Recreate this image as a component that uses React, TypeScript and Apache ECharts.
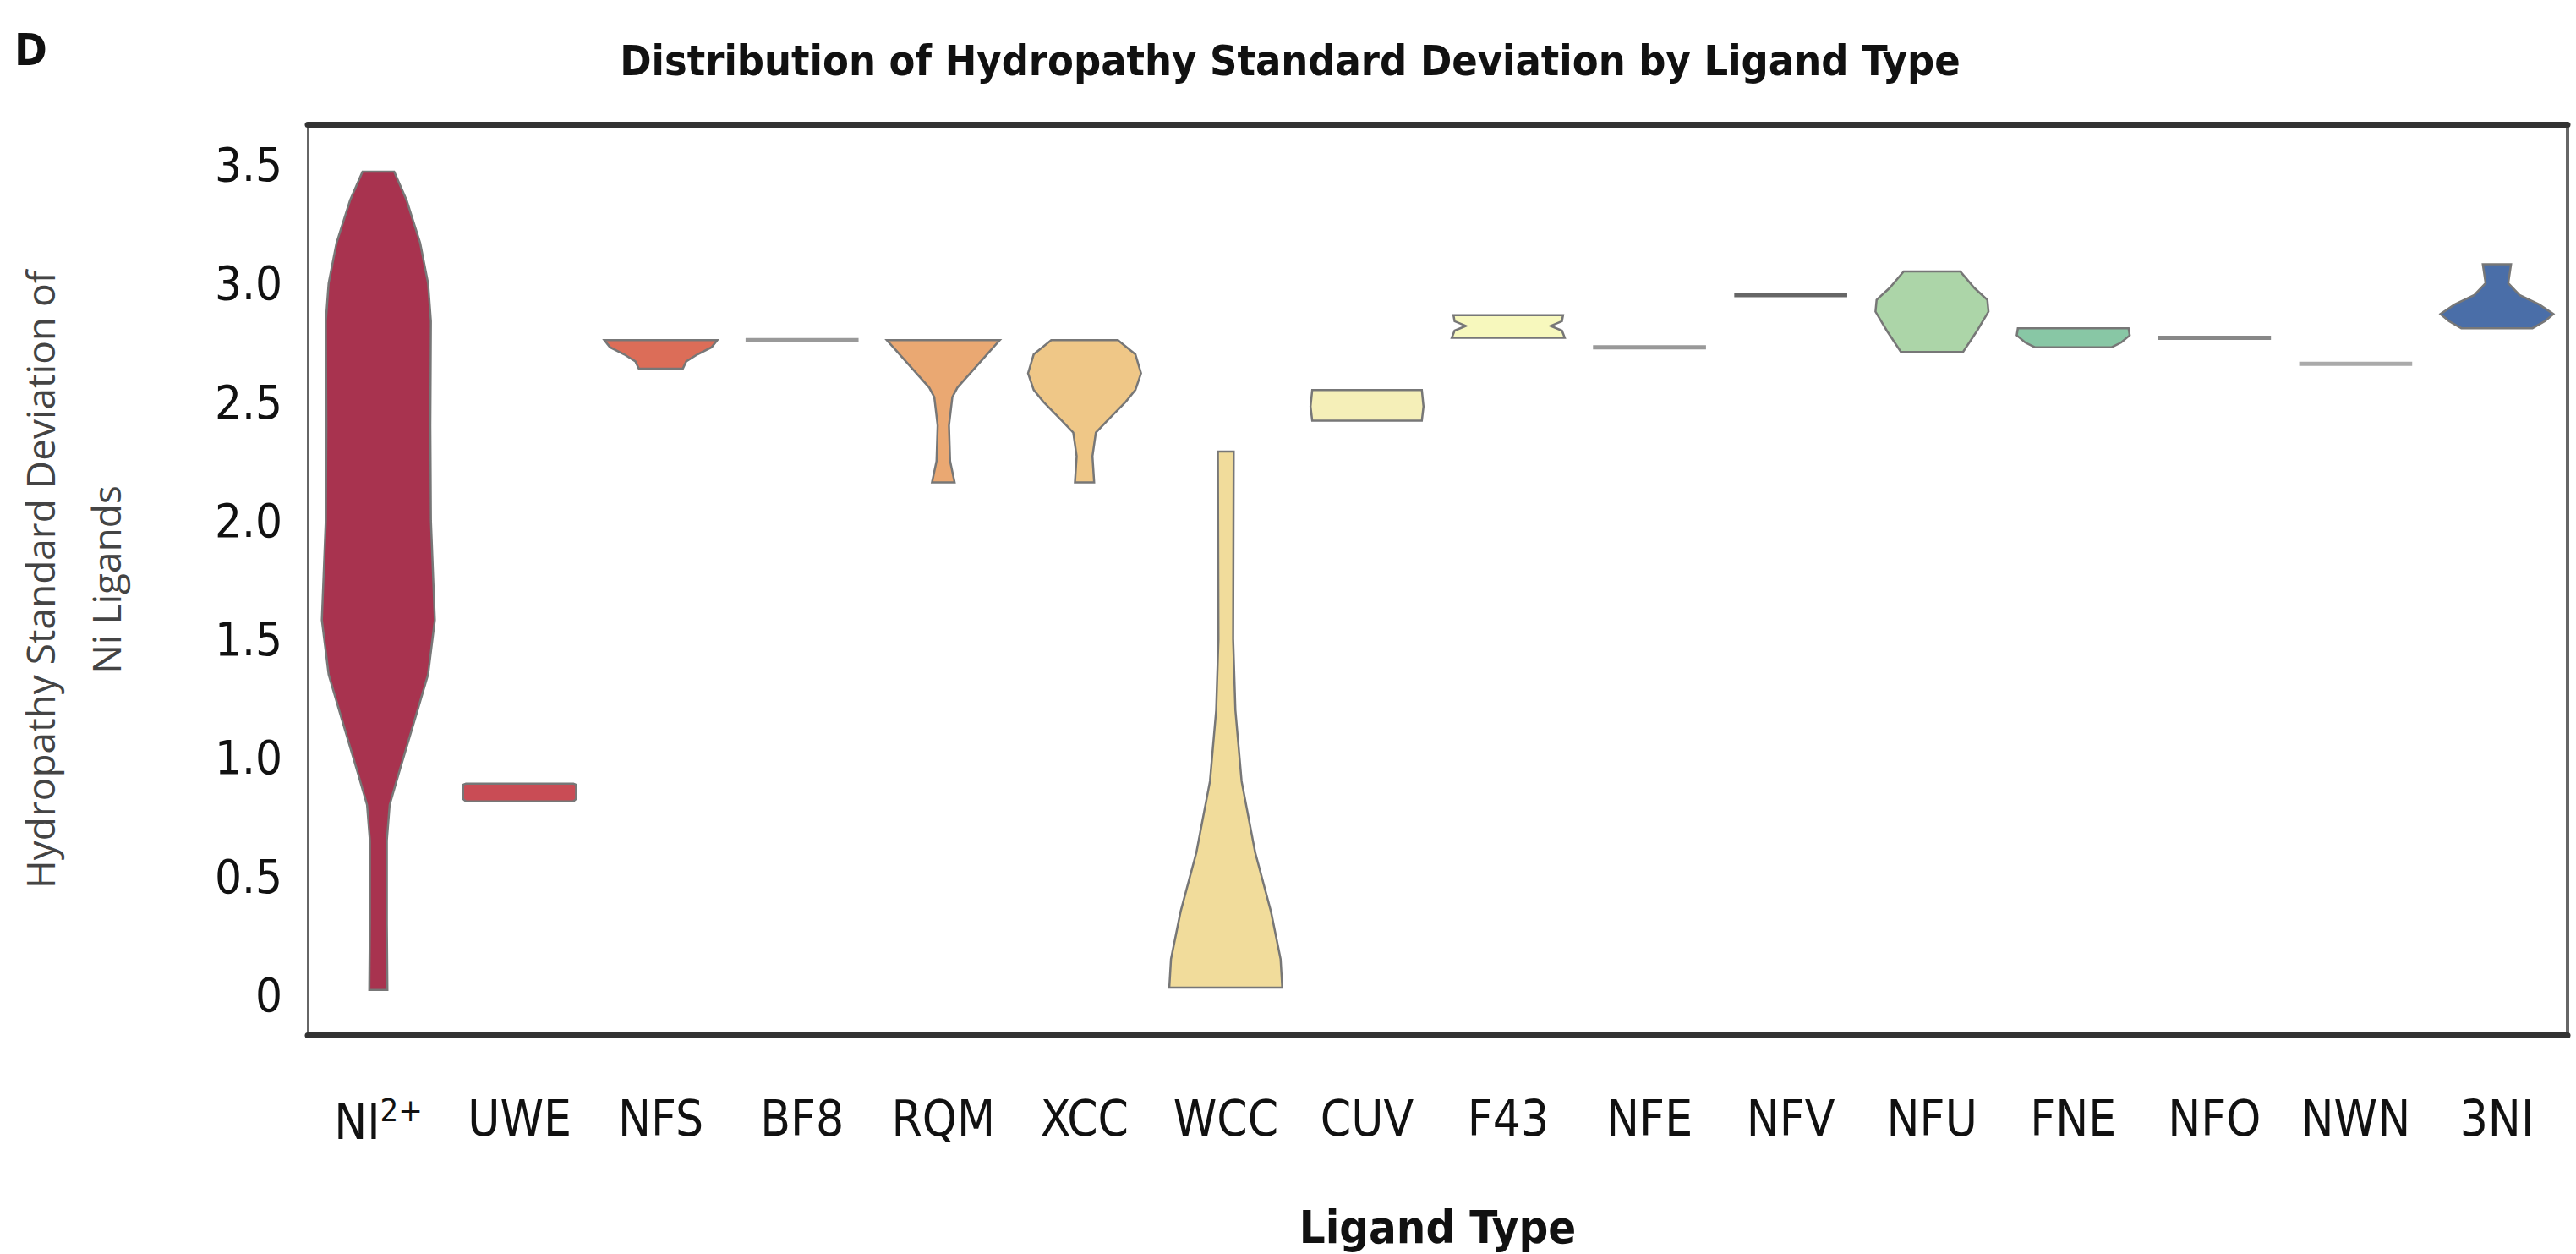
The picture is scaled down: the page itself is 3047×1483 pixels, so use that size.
import React, { useEffect, useRef } from "react";
import * as echarts from "echarts";

const categories = ["NI2+", "UWE", "NFS", "BF8", "RQM", "XCC", "WCC", "CUV", "F43", "NFE", "NFV", "NFU", "FNE", "NFO", "NWN", "3NI"];
const colors = ["#a8334f", "#c94c55", "#dc6d58", "#999999", "#eaa872", "#efc787", "#f1dc9b", "#f5efb8", "#f7f8bd", "#999999", "#666666", "#acd5a8", "#88c7a5", "#888888", "#aaaaaa", "#4a6ea8"];
// [value, relative width] pairs, top to bottom
const profNI: number[][] = [[3.47, 0.28], [3.35, 0.5], [3.17, 0.74], [3.0, 0.88], [2.84, 0.93], [2.4, 0.92], [2.0, 0.93], [1.58, 1.0], [1.35, 0.88], [1.18, 0.67], [0.94, 0.37], [0.8, 0.2], [0.65, 0.15], [0.3, 0.15], [0.02, 0.16]];
const profUWE: number[][] = [[0.89, 0.95], [0.885, 1.0], [0.825, 1.0], [0.815, 0.95]];
const profNFS: number[][] = [[2.76, 1.0], [2.73, 0.9], [2.7, 0.65], [2.67, 0.45], [2.64, 0.39]];
const profBF8: number[][] = [[2.76, 1.0]];
const profRQM: number[][] = [[2.76, 1.0], [2.72, 0.85], [2.64, 0.55], [2.56, 0.25], [2.52, 0.16], [2.4, 0.1], [2.25, 0.12], [2.16, 0.2]];
const profXCC: number[][] = [[2.76, 0.59], [2.7, 0.9], [2.62, 1.0], [2.55, 0.9], [2.5, 0.73], [2.42, 0.4], [2.37, 0.2], [2.27, 0.14], [2.16, 0.17]];
const profWCC: number[][] = [[2.29, 0.14], [1.5, 0.13], [1.2, 0.17], [0.9, 0.28], [0.6, 0.52], [0.35, 0.8], [0.15, 0.97], [0.03, 1.0]];
const profCUV: number[][] = [[2.55, 0.97], [2.48, 1.0], [2.42, 0.97]];
const profF43: number[][] = [[2.865, 0.97], [2.84, 0.95], [2.82, 0.75], [2.8, 0.95], [2.77, 1.0]];
const profNFE: number[][] = [[2.73, 1.0]];
const profNFV: number[][] = [[2.95, 1.0]];
const profNFU: number[][] = [[3.05, 0.5], [2.98, 0.75], [2.93, 0.98], [2.88, 1.0], [2.8, 0.8], [2.71, 0.55]];
const profFNE: number[][] = [[2.81, 0.98], [2.78, 1.0], [2.75, 0.85], [2.73, 0.68]];
const profNFO: number[][] = [[2.77, 1.0]];
const profNWN: number[][] = [[2.66, 1.0]];
const prof3NI: number[][] = [[3.08, 0.25], [3.0, 0.2], [2.95, 0.4], [2.91, 0.75], [2.87, 1.0], [2.84, 0.85], [2.81, 0.63]];
const profiles = [profNI, profUWE, profNFS, profBF8, profRQM, profXCC, profWCC, profCUV, profF43, profNFE, profNFV, profNFU, profFNE, profNFO, profNWN, prof3NI];
const yTicks = [0, 0.5, 1.0, 1.5, 2.0, 2.5, 3.0, 3.5];

export default function App() {
  const ref = useRef<HTMLDivElement>(null);
  useEffect(() => {
    document.body.style.margin = "0";
    const chart = echarts.init(ref.current!, null, { renderer: "svg" });
    const font = "'Liberation Sans Narrow', 'DejaVu Sans Condensed', sans-serif";
    chart.setOption({
      animation: false,
      backgroundColor: "#fff",
      title: [
        { text: "Distribution of Hydropathy Standard Deviation by Ligand Type", left: 1521, top: 42, textAlign: "center",
          textStyle: { fontFamily: font, fontSize: 50, fontWeight: "bold", color: "#111" } },
        { text: "D", left: 12, top: 28, textStyle: { fontFamily: font, fontSize: 52, fontWeight: "bold", color: "#111" } },
      ],
      grid: { left: 328, right: 10, top: 147, bottom: 248 },
      xAxis: [
        { type: "category", data: categories, position: "bottom",
          axisLine: { onZero: false, lineStyle: { color: "#333", width: 7 } }, axisTick: { show: false },
          axisLabel: { interval: 0, margin: 70, fontFamily: font, fontSize: 58, color: "#111",
            formatter: (v: string) => v === "NI2+" ? "NI{sup|2+}" : v,
            rich: { sup: { fontFamily: font, fontSize: 38, verticalAlign: "top", padding: [0, 0, 28, 0], color: "#111" } } },
          name: "Ligand Type", nameLocation: "middle", nameGap: 200,
          nameTextStyle: { fontFamily: font, fontSize: 54, fontWeight: "bold", color: "#111" } },
        { type: "category", data: categories, position: "top",
          axisLine: { onZero: false, lineStyle: { color: "#333", width: 7 } }, axisTick: { show: false }, axisLabel: { show: false } },
      ],
      yAxis: [
        { type: "value", min: -0.17, max: 3.67, splitLine: { show: false },
          axisLine: { show: true, onZero: false, lineStyle: { color: "#666", width: 3 } }, axisTick: { show: false },
          axisLabel: { customValues: yTicks, margin: 30, fontFamily: font, fontSize: 56, color: "#111",
            formatter: (v: number) => (v === 0 ? "0" : v.toFixed(1)) },
          name: "Hydropathy Standard Deviation of\nNi Ligands", nameLocation: "middle", nameGap: 200,
          nameTextStyle: { fontFamily: "'Open Sans', sans-serif", fontSize: 46, color: "#444", lineHeight: 78 } },
        { type: "value", min: -0.17, max: 3.67, position: "right", splitLine: { show: false },
          axisLine: { show: true, onZero: false, lineStyle: { color: "#666", width: 4 } }, axisTick: { show: false }, axisLabel: { show: false } },
      ],
      series: [{
        type: "custom",
        data: categories.map((_, i) => [i]),
        renderItem: (params: any, api: any) => {
          const i = api.value(0);
          const prof = profiles[i];
          const half = api.size([1, 0])[0] * 0.4;
          const cx = api.coord([i, 0])[0];
          if (prof.length === 1) {
            const y = api.coord([i, prof[0][0]])[1];
            return { type: "line", shape: { x1: cx - half, y1: y, x2: cx + half, y2: y },
              style: { stroke: colors[i], lineWidth: 5 } };
          }
          const pts: number[][] = [];
          prof.forEach((p) => { pts.push([cx + half * p[1], api.coord([i, p[0]])[1]]); });
          for (let k = prof.length - 1; k >= 0; k--) pts.push([cx - half * prof[k][1], api.coord([i, prof[k][0]])[1]]);
          return { type: "polygon", shape: { points: pts },
            style: { fill: colors[i], stroke: "#777", lineWidth: 2.5 } };
        },
      }],
    });
    return () => chart.dispose();
  }, []);
  return <div ref={ref} style={{ width: 3047, height: 1483 }} />;
}
